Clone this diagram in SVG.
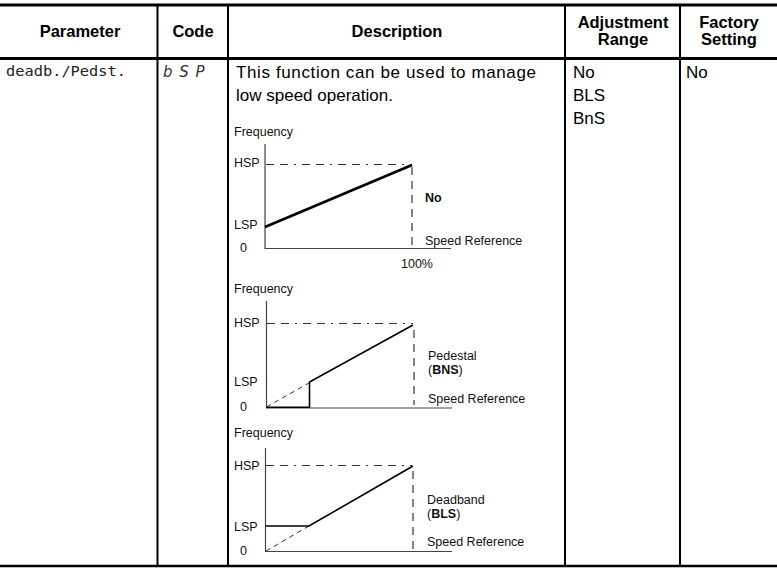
<svg xmlns="http://www.w3.org/2000/svg" width="777" height="577" viewBox="0 0 777 577">
<style>
.hd{font-family:"Liberation Sans",Arial,sans-serif;font-weight:bold;font-size:16.5px;fill:#000;text-anchor:middle}
.tx{font-family:"Liberation Sans",Arial,sans-serif;font-size:17px;fill:#000}
.sm{font-family:"Liberation Sans",Arial,sans-serif;font-size:12.5px;fill:#111}
.smb{font-family:"Liberation Sans",Arial,sans-serif;font-size:12.5px;fill:#111;font-weight:bold}
.rule{stroke:#000;fill:none}
.ax{stroke:#444;stroke-width:1.2;fill:none}
.dd{stroke:#333;stroke-width:1.2;fill:none;stroke-dasharray:8 6 8 6 2 6}
.dv{stroke:#333;stroke-width:1.2;fill:none;stroke-dasharray:8 6}
.ds{stroke:#333;stroke-width:1;fill:none;stroke-dasharray:5 4}
.cv{stroke:#000;stroke-width:1.6;fill:none}
</style>
<rect width="777" height="577" fill="#fff"/>
<g id="table">
<line class="rule" x1="0" y1="5" x2="777" y2="5" stroke-width="3"/>
<line class="rule" x1="0" y1="58.5" x2="777" y2="58.5" stroke-width="3"/>
<line class="rule" x1="0" y1="566" x2="777" y2="566" stroke-width="2.5"/>
<line class="rule" x1="157.5" y1="6" x2="157.5" y2="566" stroke-width="2"/>
<line class="rule" x1="228" y1="6" x2="228" y2="566" stroke-width="2"/>
<line class="rule" x1="565" y1="6" x2="565" y2="566" stroke-width="2"/>
<line class="rule" x1="680" y1="6" x2="680" y2="566" stroke-width="2"/>
</g>
<g id="header">
<text class="hd" x="80" y="37">Parameter</text>
<text class="hd" x="193" y="37">Code</text>
<text class="hd" x="397" y="37">Description</text>
<text class="hd" x="623" y="28">Adjustment</text>
<text class="hd" x="623" y="45">Range</text>
<text class="hd" x="729" y="28">Factory</text>
<text class="hd" x="729" y="45">Setting</text>
</g>
<g id="row-param">
<text x="6" y="76" font-family="DejaVu Sans Mono, monospace" font-size="14" textLength="120" lengthAdjust="spacingAndGlyphs" fill="#222">deadb./Pedst.</text>
</g>
<g id="row-code">
<text x="163" y="77" font-family="DejaVu Sans, sans-serif" font-size="15" font-style="italic" fill="#333" letter-spacing="1">b S P</text>
</g>
<g id="row-desc">
<text class="tx" x="236" y="78" textLength="300" lengthAdjust="spacing">This function can be used to manage</text>
<text class="tx" x="236" y="101">low speed operation.</text>
</g>
<g id="row-range">
<text class="tx" x="573" y="78">No</text>
<text class="tx" x="573" y="101">BLS</text>
<text class="tx" x="573" y="124">BnS</text>
</g>
<g id="row-factory">
<text class="tx" x="686" y="78">No</text>
</g>
<g id="graph-no">
<text class="sm" x="234" y="136">Frequency</text>
<text class="sm" x="234" y="167">HSP</text>
<text class="sm" x="234" y="229">LSP</text>
<text class="sm" x="240" y="252">0</text>
<path class="ax" d="M265 144 V248.5 H451"/>
<path class="dd" d="M266 164.5 H412"/>
<path class="dv" d="M412 167 V245"/>
<path d="M265 227 L412 165" stroke="#000" stroke-width="2.6" fill="none"/>
<text class="smb" x="425" y="202">No</text>
<text class="sm" x="425" y="245">Speed Reference</text>
<text class="sm" x="401" y="268">100%</text>
</g>
<g id="graph-pedestal">
<text class="sm" x="234" y="293">Frequency</text>
<text class="sm" x="234" y="327">HSP</text>
<text class="sm" x="234" y="386">LSP</text>
<text class="sm" x="240" y="411">0</text>
<path class="ax" d="M266.5 301 V408 H452"/>
<path class="dd" d="M267 323.5 H413"/>
<path class="dv" d="M414 330 V405"/>
<path class="ds" d="M266.5 407 L309 383"/>
<path class="cv" d="M266.5 407.3 H309.5 V382 L413 325"/>
<text class="sm" x="428" y="360">Pedestal</text>
<text class="sm" x="428" y="374">(<tspan font-weight="bold">BNS</tspan>)</text>
<text class="sm" x="428" y="403">Speed Reference</text>
</g>
<g id="graph-deadband">
<text class="sm" x="234" y="437">Frequency</text>
<text class="sm" x="234" y="470">HSP</text>
<text class="sm" x="234" y="531">LSP</text>
<text class="sm" x="240" y="555">0</text>
<path class="ax" d="M265.5 448 V551.5 H452"/>
<path class="dd" d="M266 465.5 H412"/>
<path class="dv" d="M413 471 V550"/>
<path class="ds" d="M266 551 L309 526"/>
<path class="cv" d="M266 526 H309 L413 466"/>
<text class="sm" x="427" y="504">Deadband</text>
<text class="sm" x="427" y="518">(<tspan font-weight="bold">BLS</tspan>)</text>
<text class="sm" x="427" y="546">Speed Reference</text>
</g>
</svg>
